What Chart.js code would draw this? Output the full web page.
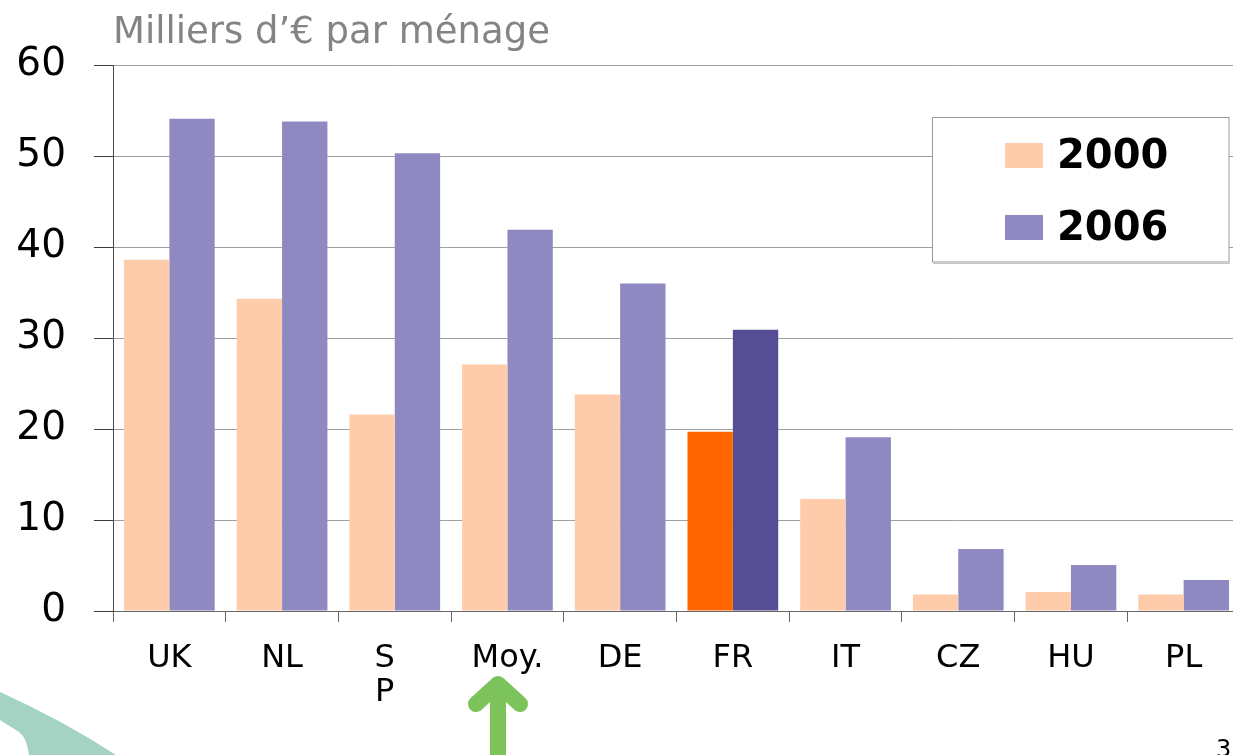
<!DOCTYPE html>
<html>
<head>
<meta charset="utf-8">
<script src="https://cdn.jsdelivr.net/npm/chart.js@4/dist/chart.umd.min.js"></script>
<style>
  html, body { margin: 0; padding: 0; overflow: hidden; background: #ffffff; }
  #wrap { position: absolute; left: 0; top: 0; width: 1250px; height: 755px; }
</style>
</head>
<body>
<div id="wrap"><canvas id="c" width="1250" height="755"></canvas></div>
<script>
// ---- data ----
const categories = ['UK', 'NL', 'SP', 'Moy.', 'DE', 'FR', 'IT', 'CZ', 'HU', 'PL'];
const tickLabels = ['UK', 'NL', ['S\u00A0\u00A0', 'P\u00A0\u00A0'], 'Moy.', 'DE', 'FR', 'IT', 'CZ', 'HU', 'PL'];
const seriesNames = ['2000', '2006'];
const values2000 = [38.6, 34.3, 21.6, 27.1, 23.8, 19.7, 12.3, 1.8, 2.1, 1.8];
const values2006 = [54.1, 53.8, 50.3, 41.9, 36.0, 30.9, 19.1, 6.8, 5.05, 3.4];
const yTicks = [0, 10, 20, 30, 40, 50, 60];
const titleText = 'Milliers d\u2019\u20AC par ménage';
const highlighted = 'FR';
const pageNumber = '3';

// ---- styles ----
const colors = {
  base2000: '#FECCAA', base2006: '#8E8AC1',
  hi2000: '#FF6600', hi2006: '#554E94'
};
const col2000 = categories.map(c => c === highlighted ? colors.hi2000 : colors.base2000);
const col2006 = categories.map(c => c === highlighted ? colors.hi2006 : colors.base2006);

const legendPlugin = {
  id: 'boxLegend',
  afterDraw(chart) {
    const ctx = chart.ctx;
    ctx.save();
    ctx.fillStyle = '#ffffff';
    ctx.fillRect(932.5, 117.5, 296.5, 144.5);
    ctx.strokeStyle = '#9a9a9a';
    ctx.lineWidth = 1;
    ctx.strokeRect(932.5, 117.5, 296.5, 144.5);
    ctx.strokeStyle = '#c8c8c8';
    ctx.beginPath(); ctx.moveTo(933, 263.5); ctx.lineTo(1230, 263.5); ctx.stroke();
    const rows = [143, 215];
    const baseCols = [colors.base2000, colors.base2006];
    chart.data.datasets.forEach((ds, i) => {
      ctx.fillStyle = baseCols[i];
      ctx.fillRect(1005, rows[i], 38, 25);
      ctx.fillStyle = '#000000';
      ctx.font = 'bold 40px "DejaVu Sans"';
      ctx.textBaseline = 'alphabetic';
      ctx.textAlign = 'left';
      ctx.fillText(ds.label, 1057, rows[i] + 25);
    });
    ctx.restore();
  }
};

const decoPlugin = {
  id: 'deco',
  afterDraw(chart) {
    const ctx = chart.ctx;
    ctx.save();
    // teal swoosh bottom-left
    ctx.fillStyle = '#A4D2C3';
    ctx.beginPath();
    ctx.moveTo(0, 692);
    ctx.quadraticCurveTo(62, 720, 116, 755);
    ctx.lineTo(29, 755);
    ctx.quadraticCurveTo(27, 738, 19, 732);
    ctx.lineTo(0, 720);
    ctx.closePath();
    ctx.fill();
    // green arrow under Moy.
    ctx.strokeStyle = '#7DC35C';
    ctx.lineWidth = 16;
    ctx.lineCap = 'round';
    ctx.lineJoin = 'round';
    ctx.beginPath();
    ctx.moveTo(498, 686); ctx.lineTo(498, 770);
    ctx.stroke();
    ctx.beginPath();
    ctx.moveTo(476, 704); ctx.lineTo(498, 684); ctx.lineTo(520, 704);
    ctx.stroke();
    // page number
    ctx.fillStyle = '#000000';
    ctx.font = '24px "DejaVu Sans"';
    ctx.textAlign = 'left';
    ctx.textBaseline = 'alphabetic';
    ctx.fillText(pageNumber, 1216, 757);
    ctx.restore();
  }
};

new Chart(document.getElementById('c'), {
  type: 'bar',
  data: {
    labels: tickLabels,
    datasets: [
      { label: seriesNames[0], data: values2000, backgroundColor: col2000, borderWidth: 0 },
      { label: seriesNames[1], data: values2006, backgroundColor: col2006, borderWidth: 0 }
    ]
  },
  options: {
    responsive: false,
    devicePixelRatio: 1,
    animation: false,
    layout: { padding: { left: 0, right: 10, top: 0, bottom: 0 } },
    datasets: { bar: { categoryPercentage: 0.805, barPercentage: 1.0 } },
    plugins: {
      legend: { display: false },
      tooltip: { enabled: false },
      title: {
        display: true,
        text: titleText,
        align: 'start',
        fullSize: false,
        color: '#848484',
        font: { family: '"DejaVu Sans"', size: 37, weight: 'normal', lineHeight: 1.2 },
        padding: { top: 11, bottom: 9.6 }
      }
    },
    scales: {
      x: {
        grid: {
          offset: true,
          drawOnChartArea: false,
          drawTicks: true,
          tickLength: 11,
          tickColor: '#666666',
          color: '#666666'
        },
        border: { display: true, color: '#666666', width: 1 },
        ticks: {
          color: '#000000',
          padding: 20,
          maxRotation: 0,
          autoSkip: false,
          font: { family: '"DejaVu Sans"', size: 32, lineHeight: 1.06 }
        },
        afterFit(scale) { scale.height = 144; }
      },
      y: {
        min: 0,
        max: 60,
        afterBuildTicks(scale) { scale.ticks = yTicks.map(v => ({ value: v })); },
        grid: {
          color: '#a0a0a0',
          lineWidth: 1,
          drawTicks: true,
          tickLength: 19,
          tickColor: '#3c3c3c'
        },
        border: { display: true, color: '#4a4a4a', width: 1 },
        ticks: {
          color: '#000000',
          padding: 28,
          font: { family: '"DejaVu Sans"', size: 39 }
        },
        afterFit(scale) { scale.width = 113; }
      }
    }
  },
  plugins: [legendPlugin, decoPlugin]
});
</script>
</body>
</html>
